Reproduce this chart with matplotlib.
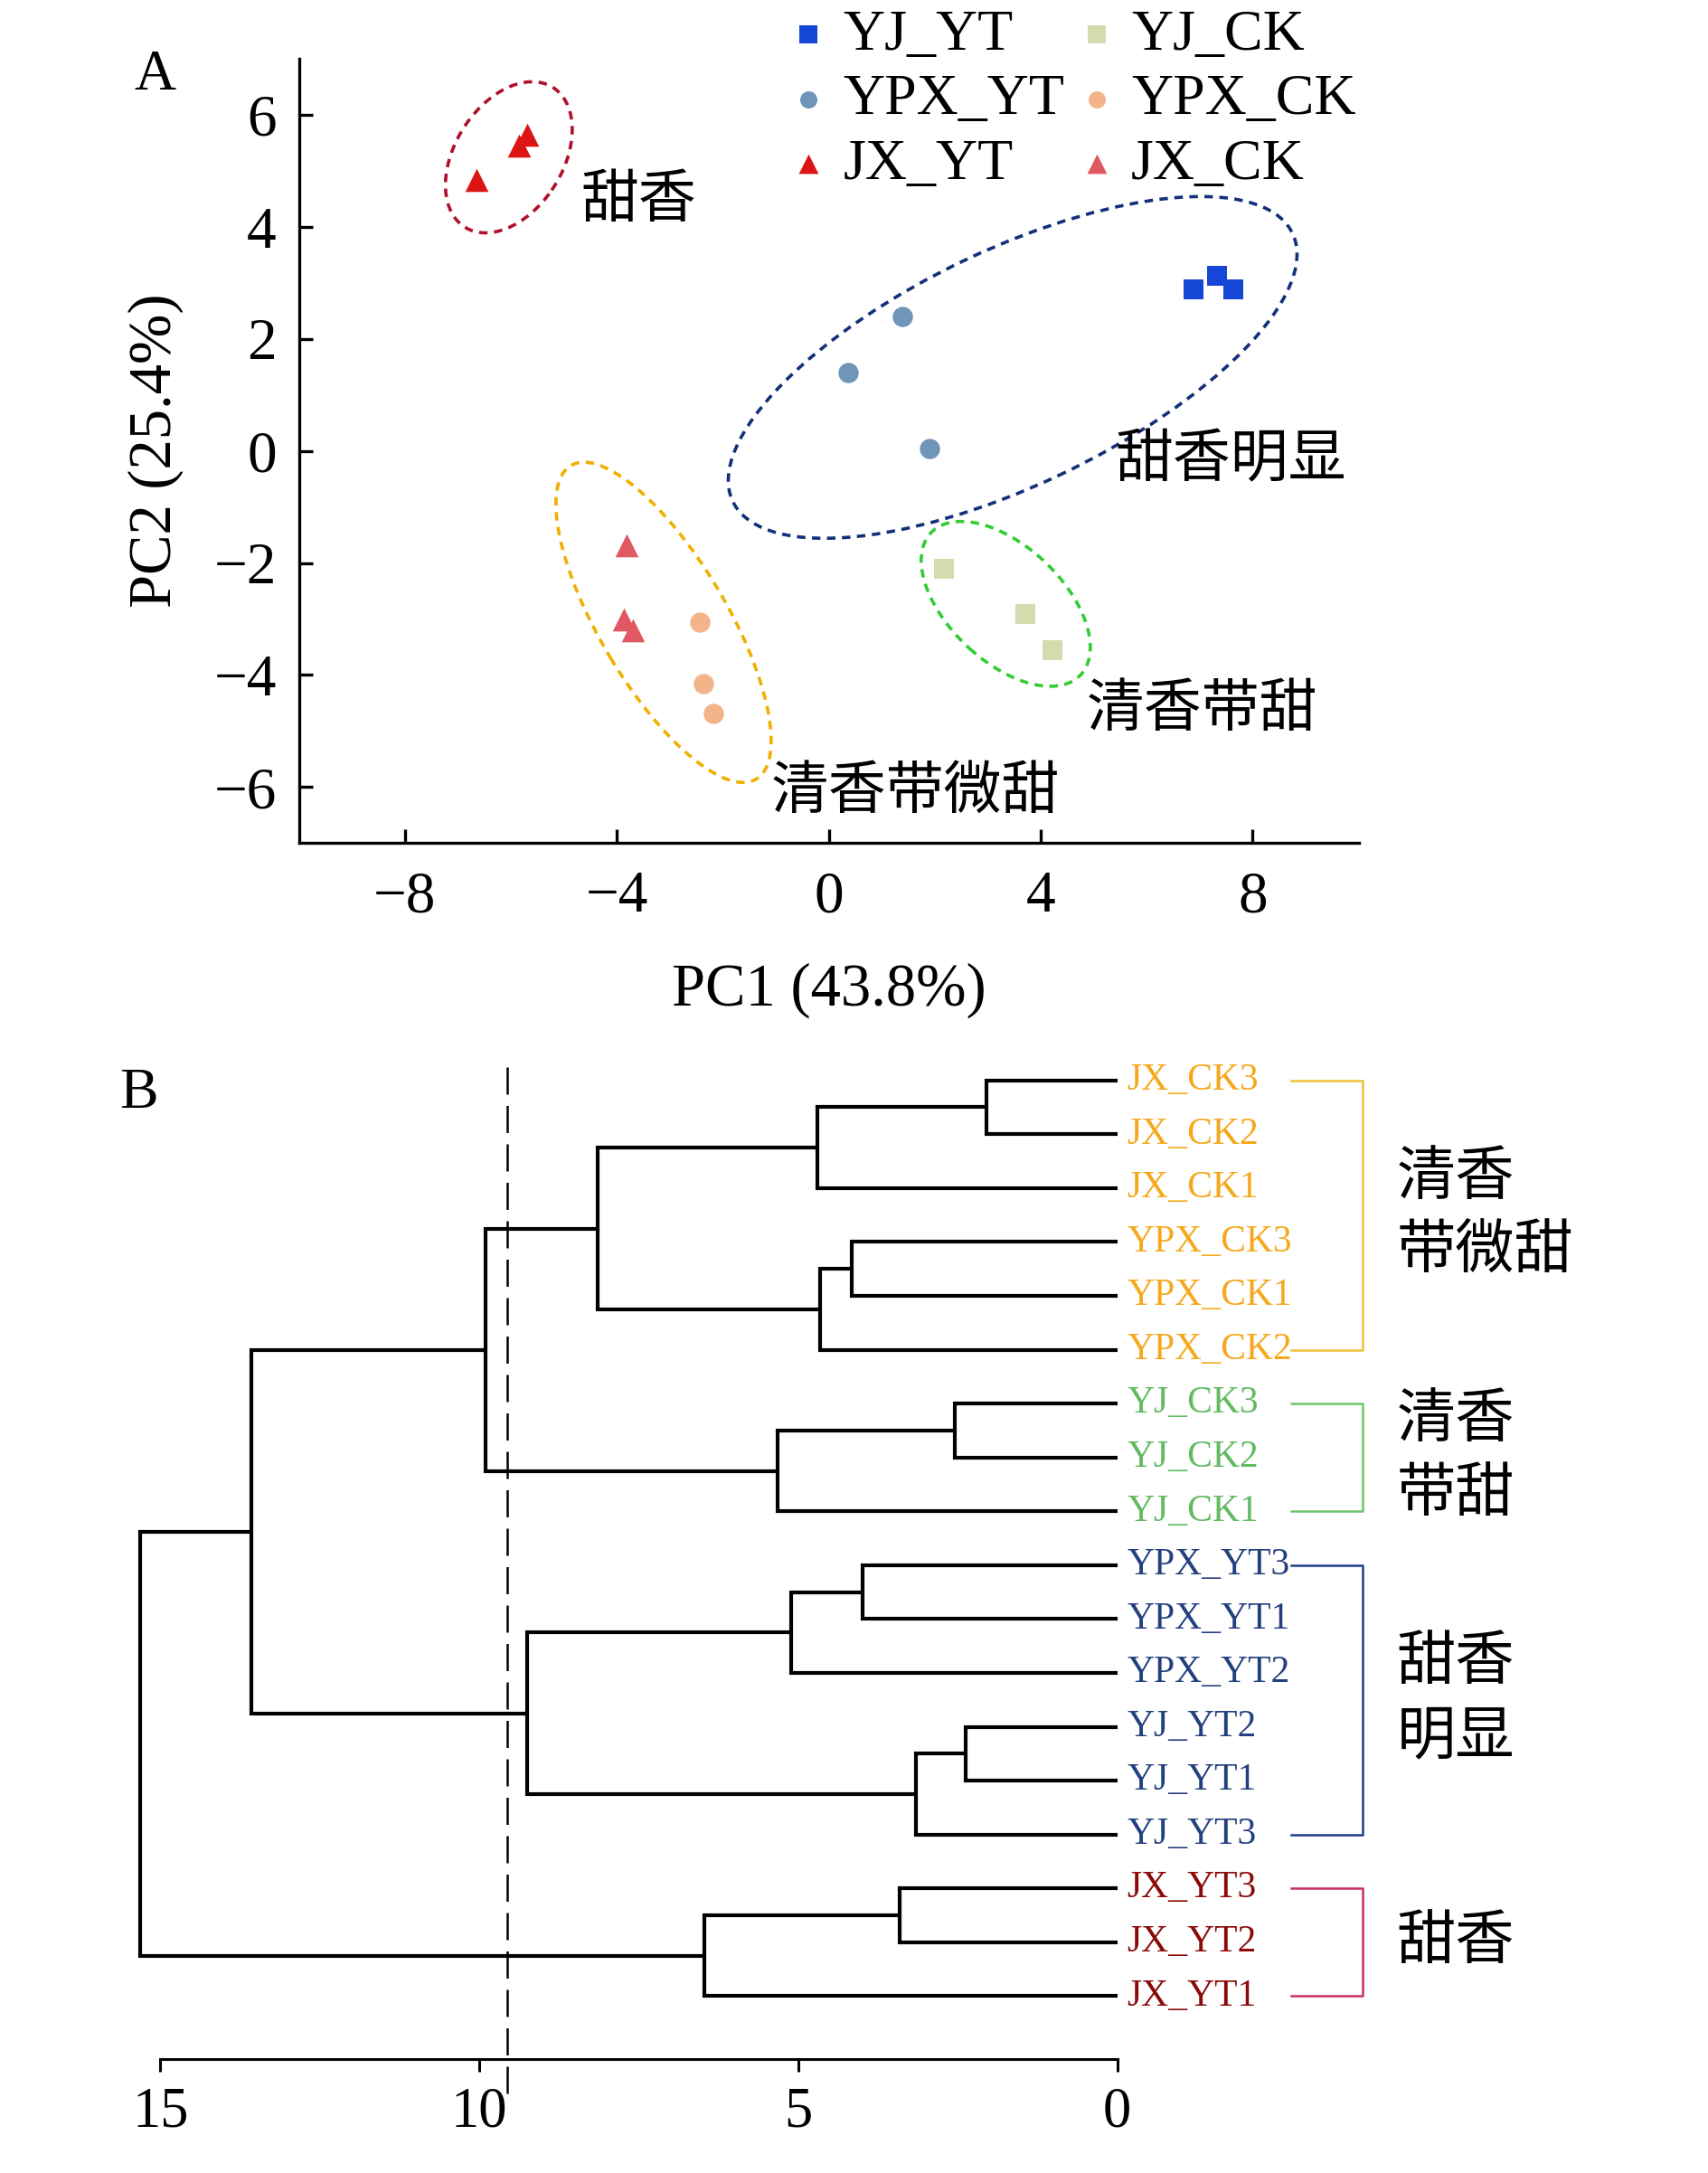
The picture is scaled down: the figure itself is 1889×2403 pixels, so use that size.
import matplotlib
matplotlib.use('Agg')
import matplotlib.pyplot as plt
from matplotlib.patches import Ellipse

plt.rcParams['font.family'] = ['Liberation Serif', 'Noto Sans CJK SC']
plt.rcParams['axes.unicode_minus'] = True

# ---- panel A: PCA scores ----
groups = ['YJ_YT', 'YPX_YT', 'JX_YT', 'YJ_CK', 'YPX_CK', 'JX_CK']
markers = ['s', 'o', '^', 's', 'o', '^']
colors = ['#1546d6', '#6f95b8', '#dc1414', '#d3dcae', '#f3b489', '#e05862']
pc1 = [[6.88, 7.32, 7.64], [0.36, 1.38, 1.90], [-6.65, -5.84, -5.69],
       [2.18, 3.71, 4.23], [-2.44, -2.36, -2.18], [-3.82, -3.87, -3.69]]
pc2 = [[2.89, 3.13, 2.89], [1.39, 2.40, 0.05], [4.84, 5.45, 5.65],
       [-2.10, -2.91, -3.55], [-3.06, -4.16, -4.69], [-1.69, -3.00, -3.20]]

# cluster ellipses: centre x, centre y, width, height, angle, colour
ell_x = [-6.04, 3.47, -3.12, 3.34]
ell_y = [5.24, 1.49, -3.06, -2.73]
ell_w = [3.0, 11.6, 6.6, 3.8]
ell_h = [2.0, 4.23, 2.37, 2.1]
ell_ang = [54, 24, -57.6, -40.6]
ell_col = ['#b0102a', '#14307a', '#f0b000', '#33cc33']

cluster_names = ['甜香', '甜香明显', '清香带甜', '清香带微甜']
name_x = [-4.68, 5.4, 4.86, -1.09]
name_y = [4.47, -0.17, -4.62, -6.09]

# ---- panel B: hierarchical clustering ----
leaves = ['JX_CK3', 'JX_CK2', 'JX_CK1', 'YPX_CK3', 'YPX_CK1', 'YPX_CK2',
          'YJ_CK3', 'YJ_CK2', 'YJ_CK1', 'YPX_YT3', 'YPX_YT1', 'YPX_YT2',
          'YJ_YT2', 'YJ_YT1', 'YJ_YT3', 'JX_YT3', 'JX_YT2', 'JX_YT1']
leaf_colors = ['#f5a81c'] * 6 + ['#62ba62'] * 3 + ['#23407e'] * 6 + ['#8b0a0a'] * 3
# merges: (child a, child b, distance); new nodes are numbered from 18
linkage = [(0, 1, 2.05), (18, 2, 4.70), (3, 4, 4.16), (20, 5, 4.66),
           (19, 21, 8.15), (6, 7, 2.54), (23, 8, 5.32), (22, 24, 9.91),
           (9, 10, 3.99), (26, 11, 5.11), (12, 13, 2.37), (28, 14, 3.15),
           (27, 29, 9.25), (25, 30, 13.58), (15, 16, 3.41), (32, 17, 6.47),
           (31, 33, 15.32)]
cut_height = 9.57
bracket_first = [0, 6, 9, 15]
bracket_last = [5, 8, 14, 17]
bracket_col = ['#efc33a', '#6cc56c', '#1f3a88', '#c8306a']
bracket_names = ['清香\n带微甜', '清香\n带甜', '甜香\n明显', '甜香']

fig = plt.figure(figsize=(18.9, 24.03), dpi=100)

ax = fig.add_axes([0.175, 0.612, 0.62, 0.361])
for g, m, c, xs, ys in zip(groups, markers, colors, pc1, pc2):
    ax.scatter(xs, ys, marker=m, s=260 if m != '^' else 340, color=c,
               label=g, zorder=3, linewidths=0)
for x, y, w, h, a, c in zip(ell_x, ell_y, ell_w, ell_h, ell_ang, ell_col):
    ax.add_patch(Ellipse((x, y), w, h, angle=a, fill=False, edgecolor=c,
                         lw=2.6, linestyle=(0, (2.6, 2.0))))
for t, x, y in zip(cluster_names, name_x, name_y):
    ax.text(x, y, t, fontsize=46, va='center', ha='left',
            family=['Noto Sans CJK SC'])
ax.set_xlim(-10, 10)
ax.set_ylim(-7, 7)
ax.set_xticks([-8, -4, 0, 4, 8])
ax.set_yticks([-6, -4, -2, 0, 2, 4, 6])
for s in ['top', 'right']:
    ax.spines[s].set_visible(False)
for s in ['left', 'bottom']:
    ax.spines[s].set_linewidth(2.4)
ax.tick_params(direction='in', length=11, width=2.4, labelsize=47)
ax.tick_params(axis='x', pad=22)
ax.tick_params(axis='y', pad=18)
ax.set_xlabel('PC1 (43.8%)', fontsize=48, labelpad=30)
ax.set_ylabel('PC2 (25.4%)', fontsize=48, labelpad=24)
ax.legend(ncol=2, loc='upper left', bbox_to_anchor=(0.44, 1.10), frameon=False,
          fontsize=46, handlelength=0.5, handletextpad=0.35, labelspacing=0.2,
          columnspacing=0.3, borderpad=0, markerscale=0.85)
fig.text(0.0907, 0.965, 'A', fontsize=46, ha='center', va='center')

# dendrogram
bx = fig.add_axes([0.0715, 0.0524, 0.5823, 0.4653])
pos = {i: float(i) for i in range(len(leaves))}
hgt = {i: 0.0 for i in range(len(leaves))}
for k, (a, b, h) in enumerate(linkage):
    bx.plot([hgt[a], h, h, hgt[b]], [pos[a], pos[a], pos[b], pos[b]],
            color='black', lw=3.0, solid_capstyle='butt', solid_joinstyle='miter')
    node = len(leaves) + k
    pos[node] = (pos[a] + pos[b]) / 2
    hgt[node] = h
for i, (lab, c) in enumerate(zip(leaves, leaf_colors)):
    bx.text(-0.15, i, lab, color=c, fontsize=30, va='center', ha='left')
for f, l, c, n in zip(bracket_first, bracket_last, bracket_col, bracket_names):
    bx.plot([-2.72, -3.84, -3.84, -2.72], [f, f, l, l], color=c, lw=1.8,
            clip_on=False)
    bx.text(-4.38, (f + l) / 2, n, fontsize=47, va='center', ha='left',
            linespacing=1.3, family=['Noto Sans CJK SC'])
bx.plot([cut_height, cut_height], [-0.25, 18.9], color='black', lw=1.8,
        linestyle=(0, (12, 5)), clip_on=False)
bx.set_xlim(15.6, 0)
bx.set_ylim(18.17, -0.6)
bx.set_xticks([15, 10, 5, 0])
bx.set_yticks([])
for s in ['top', 'right', 'left']:
    bx.spines[s].set_visible(False)
bx.spines['bottom'].set_bounds(0, 15)
bx.spines['bottom'].set_linewidth(2.2)
bx.tick_params(axis='x', direction='out', length=10, width=2.2, labelsize=45, pad=12)
fig.text(0.081, 0.4965, 'B', fontsize=46, ha='center', va='center')

fig.savefig('out.png', dpi=100)
